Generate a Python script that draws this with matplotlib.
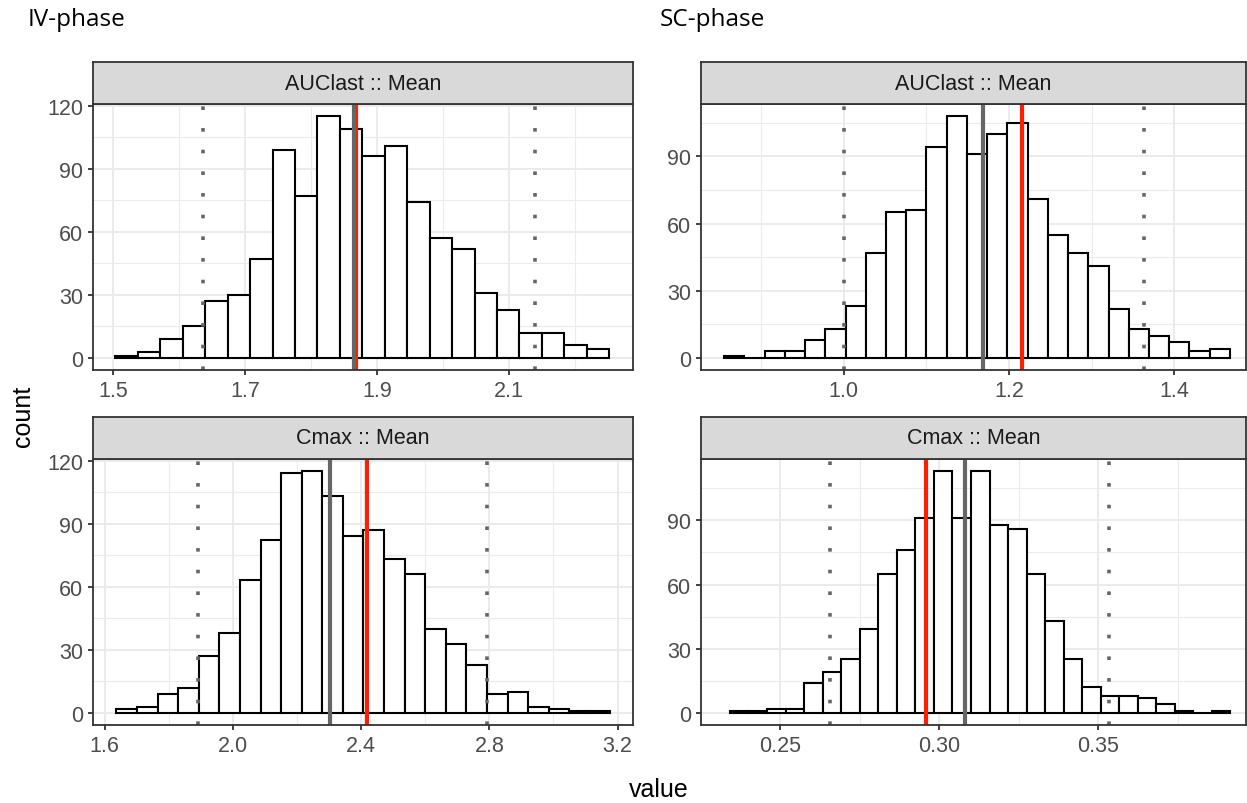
import numpy as np
import matplotlib
matplotlib.use("Agg")
import matplotlib.pyplot as plt

# ---- data (counts per bin, bin start/width, ref lines)
iv_auc_counts = [1, 3, 9, 15, 27, 30, 47, 99, 77, 115, 109, 96, 101, 74, 57,
                 52, 31, 23, 12, 12, 6, 4]
iv_auc_bin = (1.504, 0.034)
iv_auc_ci = [1.637, 2.140]
iv_auc_median = 1.866
iv_auc_obs = 1.869

sc_auc_counts = [1, 0, 3, 3, 8, 13, 23, 47, 65, 66, 94, 108, 91, 100, 105,
                 71, 55, 47, 41, 22, 13, 10, 7, 3, 4]
sc_auc_bin = (0.855, 0.0245)
sc_auc_ci = [1.000, 1.364]
sc_auc_median = 1.168
sc_auc_obs = 1.2155

iv_cmax_counts = [2, 3, 9, 12, 27, 38, 63, 82, 114, 115, 103, 84, 87, 73, 66,
                  40, 33, 23, 9, 10, 3, 2, 1, 1]
iv_cmax_bin = (1.637, 0.0642)
iv_cmax_ci = [1.891, 2.793]
iv_cmax_median = 2.304
iv_cmax_obs = 2.419

sc_cmax_counts = [1, 1, 2, 2, 14, 19, 25, 39, 65, 76, 91, 113, 91, 113, 88,
                  86, 65, 43, 25, 12, 8, 8, 7, 4, 1, 0, 1]
sc_cmax_bin = (0.2342, 0.005828)
sc_cmax_ci = [0.2655, 0.3535]
sc_cmax_median = 0.3081
sc_cmax_obs = 0.2957

strip_labels = ["AUClast :: Mean", "AUClast :: Mean", "Cmax :: Mean", "Cmax :: Mean"]
phase_titles = ["IV-phase", "SC-phase"]

x_major = [[1.5, 1.7, 1.9, 2.1], [1.0, 1.2, 1.4],
           [1.6, 2.0, 2.4, 2.8, 3.2], [0.25, 0.30, 0.35]]
x_minor = [[1.6, 1.8, 2.0, 2.2], [0.9, 1.1, 1.3],
           [1.8, 2.2, 2.6, 3.0], [0.225, 0.275, 0.325, 0.375]]
x_fmt = ["{:.1f}", "{:.1f}", "{:.1f}", "{:.2f}"]
x_lims = [(1.470, 2.288), (0.827, 1.487), (1.564, 3.248), (0.2270, 0.3965)]
y_major = [[0, 30, 60, 90, 120], [0, 30, 60, 90],
           [0, 30, 60, 90, 120], [0, 30, 60, 90]]
y_minor = [15, 45, 75, 105]

# ---- styling (ggplot theme_bw look)
W, H = 1247, 804
GRID = "#EBEBEB"
BORDER = "#333333"
REF_GRAY = "#666666"
RED = "#FF1E00"
FONT = ["Liberation Sans", "DejaVu Sans"]
plt.rcParams["font.family"] = FONT


def px_rect(x0, y0, x1, y1):
    return [x0 / W, 1 - y1 / H, (x1 - x0) / W, (y1 - y0) / H]


panel_boxes = [(93, 105, 633, 371), (701, 105, 1246, 371),
               (93, 460, 633, 726), (701, 460, 1246, 726)]
strip_h = 42

panels = [
    (iv_auc_counts, iv_auc_bin, iv_auc_ci, iv_auc_median, iv_auc_obs),
    (sc_auc_counts, sc_auc_bin, sc_auc_ci, sc_auc_median, sc_auc_obs),
    (iv_cmax_counts, iv_cmax_bin, iv_cmax_ci, iv_cmax_median, iv_cmax_obs),
    (sc_cmax_counts, sc_cmax_bin, sc_cmax_ci, sc_cmax_median, sc_cmax_obs),
]

fig = plt.figure(figsize=(W / 100, H / 100), dpi=100)

for i, (counts, (start, width), ci, med, obs) in enumerate(panels):
    x0, y0, x1, y1 = panel_boxes[i]
    ax = fig.add_axes(px_rect(x0, y0, x1, y1))
    counts = np.asarray(counts)
    lefts = start + width * np.arange(len(counts))
    ax.bar(lefts, counts, width=width, align="edge", facecolor="white",
           edgecolor="black", linewidth=1.5, zorder=2)

    # reference lines
    for c in ci:
        ax.axvline(c, color=REF_GRAY, linewidth=2.6,
                   linestyle=(0, (1, 5.0)), dash_capstyle="butt", zorder=3)
    ax.axvline(obs, color=RED, linewidth=3.0, zorder=4)
    ax.axvline(med, color=REF_GRAY, linewidth=3.0, zorder=5)

    ymax = counts.max()
    ax.set_ylim(-0.05 * ymax, 1.05 * ymax)
    ax.set_xlim(*x_lims[i])
    ax.set_xticks(x_major[i])
    ax.set_xticklabels([x_fmt[i].format(v) for v in x_major[i]])
    ax.set_xticks(x_minor[i], minor=True)
    ax.set_yticks(y_major[i])
    ax.set_yticks(y_minor, minor=True)

    ax.grid(True, which="major", color=GRID, linewidth=1.4, zorder=0)
    ax.grid(True, which="minor", color=GRID, linewidth=0.8, zorder=0)
    ax.set_axisbelow(True)
    ax.tick_params(which="major", length=3.6, width=1.3, color=BORDER,
                   labelsize=15.5, labelcolor="#4D4D4D", pad=3.5)
    ax.tick_params(which="minor", length=0)
    for sp in ax.spines.values():
        sp.set_color(BORDER)
        sp.set_linewidth(1.3)
        sp.set_zorder(6)

    # facet strip
    sax = fig.add_axes(px_rect(x0, y0 - strip_h, x1, y0))
    sax.set_facecolor("#D9D9D9")
    sax.set_xticks([])
    sax.set_yticks([])
    for sp in sax.spines.values():
        sp.set_color(BORDER)
        sp.set_linewidth(1.3)
    sax.text(0.5, 0.5, strip_labels[i], transform=sax.transAxes,
             ha="center", va="center", fontsize=15.5, color="#1A1A1A")

fig.text(23 / W, 1 - 416 / H, "count", rotation=90, ha="center", va="center",
         fontsize=18, color="black")
fig.text(659 / W, 1 - 790 / H, "value", ha="center", va="center",
         fontsize=18, color="black")

for title, xpos in zip(phase_titles, [28, 660]):
    fig.text(xpos / W, 1 - 20 / H, title, ha="left", va="center",
             fontsize=17.5, color="black", family=["Open Sans", "DejaVu Sans"])

fig.savefig("out.png", dpi=100, facecolor="white")
